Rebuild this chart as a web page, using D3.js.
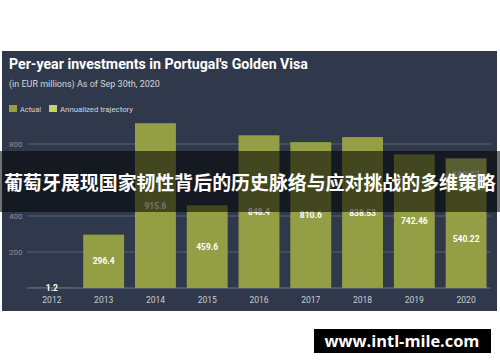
<!DOCTYPE html>
<html>
<head>
<meta charset="utf-8">
<script src="https://cdn.jsdelivr.net/npm/d3@7"></script>
<style>
  body { margin: 0; background: #fff; }
  svg { display: block; font-family: Roboto, "Noto Sans", sans-serif; }
</style>
</head>
<body>
<div id="chart"></div>
<script>
// datos
const years = ["2012", "2013", "2014", "2015", "2016", "2017", "2018", "2019", "2020"];
const actual = [1.2, 296.4, 915.6, 459.6, 848.4, 810.6, 838.53, 742.46, 540.22];
const annualized = [0, 0, 0, 0, 0, 0, 0, 0, 180.07];
const actualLabels = ["1.2", "296.4", "915.6", "459.6", "848.4", "810.6", "838.53", "742.46", "540.22"];
const annualizedLabels = ["", "", "", "", "", "", "", "", "180.07"];
const yTicks = [200, 400, 600, 800];

const w = 500, h = 362;
const panel = { x: 2, y: 51, w: 495, h: 260 };

const svg = d3.select("#chart").append("svg")
    .attr("width", w)
    .attr("height", h);

// ajusta el tamaño de letra para que el texto ocupe el ancho medido
function fitText(sel, target) {
    const fs = parseFloat(sel.style("font-size"));
    const len = sel.node().getComputedTextLength();
    if (len > 0) sel.style("font-size", (fs * target / len).toFixed(2) + "px");
    return sel;
}

// fondo del panel
svg.append("rect")
    .attr("x", panel.x).attr("y", panel.y)
    .attr("width", panel.w).attr("height", panel.h)
    .attr("fill", "#2f394b");

// titulo y subtitulo
const title = svg.append("text")
    .attr("x", 9).attr("y", 69)
    .attr("fill", "#ffffff")
    .style("font-size", "14px").style("font-weight", "bold")
    .text("Per-year investments in Portugal's Golden Visa");
fitText(title, 299);

const subtitle = svg.append("text")
    .attr("x", 9).attr("y", 87)
    .attr("fill", "#d5d8de")
    .style("font-size", "9px")
    .text("(in EUR millions) As of Sep 30th, 2020");
fitText(subtitle, 151);

// leyenda
const legend = [
    { name: "Actual", color: "#949e45", x: 9, tw: 21 },
    { name: "Annualized trajectory", color: "#c5d06e", x: 49, tw: 73 }
];
const lg = svg.append("g").selectAll("g").data(legend).enter().append("g")
    .attr("transform", d => `translate(${d.x},105)`);
lg.append("rect").attr("width", 8).attr("height", 7).attr("fill", d => d.color);
lg.append("text").attr("x", 11).attr("y", 7)
    .attr("fill", "#d5d8de").style("font-size", "8px")
    .text(d => d.name)
    .each(function(d) { fitText(d3.select(this), d.tw); });

// escalas
const xScale = d3.scaleBand()
    .domain(years)
    .range([26, 492])
    .paddingInner(0.21)
    .paddingOuter(0.105);

const yScale = d3.scaleLinear()
    .domain([0, 1000])
    .range([288, 108]);

// rejilla
const grid = svg.append("g");
grid.selectAll("line").data([0].concat(yTicks)).enter().append("line")
    .attr("x1", 27).attr("x2", 491)
    .attr("y1", d => yScale(d)).attr("y2", d => yScale(d))
    .attr("stroke", d => d === 0 ? "#6b7483" : "#596272")
    .attr("stroke-width", 1);

grid.selectAll("text").data(yTicks).enter().append("text")
    .attr("x", 9).attr("y", d => yScale(d) + 3)
    .attr("fill", "#8a919c").style("font-size", "8px")
    .text(d => d);

// barras reales
const bars = svg.append("g");
bars.selectAll("rect.actual").data(years).enter().append("rect")
    .attr("class", "actual")
    .attr("x", d => xScale(d))
    .attr("width", xScale.bandwidth())
    .attr("y", (d, i) => yScale(actual[i]))
    .attr("height", (d, i) => yScale(0) - yScale(actual[i]))
    .attr("fill", "#949e45");

// trayectoria anualizada
bars.selectAll("rect.annual").data(years).enter().append("rect")
    .attr("class", "annual")
    .attr("x", d => xScale(d))
    .attr("width", xScale.bandwidth())
    .attr("y", (d, i) => yScale(actual[i] + annualized[i]))
    .attr("height", (d, i) => yScale(actual[i]) - yScale(actual[i] + annualized[i]))
    .attr("fill", "#c5d06e");

// etiquetas de valor
bars.selectAll("text.lab").data(years).enter().append("text")
    .attr("class", "lab")
    .attr("x", d => xScale(d) + xScale.bandwidth() / 2)
    .attr("y", (d, i) => (yScale(0) + yScale(actual[i])) / 2 + 3)
    .attr("text-anchor", "middle")
    .attr("fill", "#ffffff").style("font-size", "8.5px").style("font-weight", "bold")
    .text((d, i) => actualLabels[i]);

bars.selectAll("text.alab").data(years).enter().append("text")
    .attr("class", "alab")
    .attr("x", d => xScale(d) + xScale.bandwidth() / 2)
    .attr("y", (d, i) => (yScale(actual[i]) + yScale(actual[i] + annualized[i])) / 2 + 3)
    .attr("text-anchor", "middle")
    .attr("fill", "#ffffff").style("font-size", "8.5px").style("font-weight", "bold")
    .text((d, i) => annualizedLabels[i]);

// eje x
const xAxis = d3.axisBottom(xScale).tickSize(0).tickPadding(0);
const gx = svg.append("g")
    .attr("transform", "translate(0,303)")
    .call(xAxis);
gx.select(".domain").remove();
gx.selectAll("text")
    .attr("dy", 0)
    .attr("fill", "#c9cdd3")
    .style("font-size", "8.5px")
    .style("font-family", "Roboto, sans-serif");

// banda superpuesta con titular
svg.append("rect")
    .attr("x", 0).attr("y", 151)
    .attr("width", w).attr("height", 61)
    .attr("fill", "#000000").attr("opacity", 0.55);

const banner = svg.append("text")
    .attr("x", w / 2).attr("y", 190)
    .attr("text-anchor", "middle")
    .attr("fill", "#ffffff")
    .style("font-family", "'Noto Sans CJK SC', sans-serif")
    .style("font-size", "19px").style("font-weight", "bold")
    .text("葡萄牙展现国家韧性背后的历史脉络与应对挑战的多维策略");
fitText(banner, 492);

// marca de agua
svg.append("rect")
    .attr("x", 314).attr("y", 329)
    .attr("width", 177).attr("height", 24)
    .attr("fill", "#000000");

const mark = svg.append("text")
    .attr("x", 402).attr("y", 347)
    .attr("text-anchor", "middle")
    .attr("fill", "#ffffff")
    .style("font-family", "'Open Sans', sans-serif")
    .style("font-size", "16px").style("font-weight", "bold")
    .text("www.intl-mile.com");
fitText(mark, 155);
</script>
</body>
</html>
